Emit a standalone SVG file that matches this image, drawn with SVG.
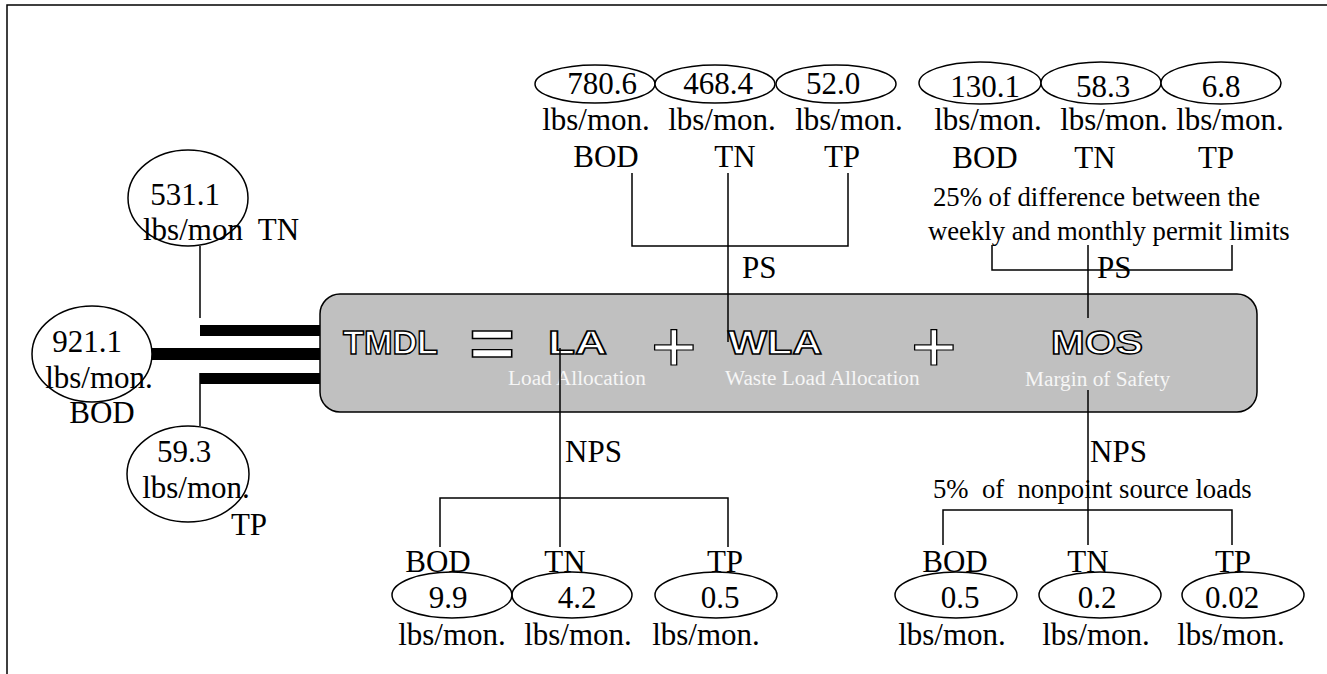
<svg xmlns="http://www.w3.org/2000/svg" width="1327" height="674" viewBox="0 0 1327 674">
<style>
.t{font-family:"Liberation Serif","Times New Roman",serif;font-size:31px;fill:#000}
.s{font-family:"Liberation Serif","Times New Roman",serif;font-size:26.7px;fill:#000}
.w{font-family:"Liberation Serif","Times New Roman",serif;font-size:21.3px;fill:#f6f6f6}
.b{font-family:"Liberation Sans",Arial,sans-serif;font-weight:bold;font-size:33px;fill:#fff;stroke:#000;stroke-width:1.4}
.eq{font-family:"Liberation Sans",Arial,sans-serif;font-weight:bold;font-size:68px;fill:#fff;stroke:#000;stroke-width:1.4}
.pl{font-family:"Liberation Sans",Arial,sans-serif;font-weight:normal;font-size:72px;fill:#fff;stroke:#000;stroke-width:1.2}
.e{fill:#fff;stroke:#000;stroke-width:1.5}
.o{fill:none;stroke:#000;stroke-width:1.5}
.ln{stroke:#000;stroke-width:1.5;fill:none}
.bar{fill:#000}
</style>
<g id="frame"><path class="ln" d="M7,674 V5 H1327"/></g>
<g id="connectors">
<rect class="bar" x="200" y="325" width="121" height="11"/>
<rect class="bar" x="150" y="348" width="171" height="12"/>
<rect class="bar" x="200" y="373" width="121" height="11"/>
<path class="ln" d="M200,246 V318 M200,373 V426"/>
</g>
<g id="tmdl">
<rect x="320" y="294" width="937" height="118" rx="20" ry="20" fill="#c0c0c0" stroke="#000" stroke-width="1.5"/>
<text class="b" x="343" y="354" textLength="95" lengthAdjust="spacingAndGlyphs">TMDL</text>
<text class="eq" x="492" y="367" text-anchor="middle" transform="translate(492 0) scale(1.15 1) translate(-492 0)">=</text>
<text class="b" x="548" y="354" textLength="59" lengthAdjust="spacingAndGlyphs">LA</text>
<text class="pl" x="674" y="371" text-anchor="middle" transform="translate(674 0) scale(1.1 1) translate(-674 0)">+</text>
<text class="b" x="728" y="354" textLength="94" lengthAdjust="spacingAndGlyphs">WLA</text>
<text class="pl" x="934" y="371" text-anchor="middle" transform="translate(934 0) scale(1.1 1) translate(-934 0)">+</text>
<text class="b" x="1051" y="354" textLength="92" lengthAdjust="spacingAndGlyphs">MOS</text>
<text class="w" x="508" y="385">Load Allocation</text>
<text class="w" x="725" y="385">Waste Load Allocation</text>
<text class="w" x="1025" y="386">Margin of Safety</text>
</g>
<g id="lines">
<path class="ln" d="M632,173 V246 H848 V173 M728,173 V342"/>
<path class="ln" d="M992,245 V270 H1232 V245 M1088,245 V318"/>
<path class="ln" d="M560,348 V547 M440,547 V498 H728 V547"/>
<path class="ln" d="M1088,390 V545 M943,545 V510 H1232 V545"/>
</g>
<g id="left-tn">
<ellipse class="e" cx="188" cy="198" rx="60" ry="48"/>
<text class="t" x="185" y="205" text-anchor="middle">531.1</text>
<text class="t" x="143" y="240" xml:space="preserve">lbs/mon  TN</text>
</g>
<g id="left-bod">
<ellipse class="e" cx="92" cy="354" rx="60" ry="48"/>
<text class="t" x="87" y="352" text-anchor="middle">921.1</text>
<text class="t" x="99" y="388" text-anchor="middle">lbs/mon.</text>
<text class="t" x="102" y="423" text-anchor="middle">BOD</text>
</g>
<g id="left-tp">
<ellipse class="e" cx="188" cy="474" rx="61" ry="48"/>
<text class="t" x="184" y="462" text-anchor="middle">59.3</text>
<text class="t" x="196" y="498" text-anchor="middle">lbs/mon.</text>
<text class="t" x="249" y="535" text-anchor="middle">TP</text>
</g>
<g id="wla-group">
<ellipse class="e" cx="595" cy="84" rx="60" ry="19"/>
<ellipse class="e" cx="715" cy="84" rx="60" ry="19"/>
<ellipse class="e" cx="836" cy="84" rx="60" ry="19"/>
<text class="t" x="602" y="94" text-anchor="middle">780.6</text>
<text class="t" x="718" y="94" text-anchor="middle">468.4</text>
<text class="t" x="833" y="94" text-anchor="middle">52.0</text>
<text class="t" x="596" y="130" text-anchor="middle">lbs/mon.</text>
<text class="t" x="722" y="130" text-anchor="middle">lbs/mon.</text>
<text class="t" x="849" y="130" text-anchor="middle">lbs/mon.</text>
<text class="t" x="606" y="167" text-anchor="middle">BOD</text>
<text class="t" x="735" y="167" text-anchor="middle">TN</text>
<text class="t" x="842" y="167" text-anchor="middle">TP</text>
<text class="t" x="742" y="278">PS</text>
</g>
<g id="mos-group">
<ellipse class="e" cx="980" cy="83" rx="61" ry="21"/>
<ellipse class="e" cx="1101" cy="83" rx="60" ry="21"/>
<ellipse class="e" cx="1221" cy="83" rx="60" ry="21"/>
<text class="t" x="985" y="97" text-anchor="middle">130.1</text>
<text class="t" x="1103" y="97" text-anchor="middle">58.3</text>
<text class="t" x="1221" y="97" text-anchor="middle">6.8</text>
<text class="t" x="988" y="130" text-anchor="middle">lbs/mon.</text>
<text class="t" x="1114" y="130" text-anchor="middle">lbs/mon.</text>
<text class="t" x="1230" y="130" text-anchor="middle">lbs/mon.</text>
<text class="t" x="985" y="168" text-anchor="middle">BOD</text>
<text class="t" x="1095" y="168" text-anchor="middle">TN</text>
<text class="t" x="1216" y="168" text-anchor="middle">TP</text>
<text class="s" x="933" y="206">25% of difference between the</text>
<text class="s" x="928" y="240">weekly and monthly permit limits</text>
<text class="t" x="1097" y="278">PS</text>
</g>
<g id="la-group">
<text class="t" x="565" y="462">NPS</text>
<text class="t" x="438" y="572" text-anchor="middle">BOD</text>
<text class="t" x="565" y="572" text-anchor="middle">TN</text>
<text class="t" x="725" y="572" text-anchor="middle">TP</text>
<ellipse class="o" cx="452" cy="595" rx="60" ry="23"/>
<ellipse class="o" cx="572" cy="595" rx="60" ry="23"/>
<ellipse class="o" cx="716" cy="595" rx="61" ry="23"/>
<text class="t" x="448" y="608" text-anchor="middle">9.9</text>
<text class="t" x="577" y="608" text-anchor="middle">4.2</text>
<text class="t" x="720" y="608" text-anchor="middle">0.5</text>
<text class="t" x="452" y="645" text-anchor="middle">lbs/mon.</text>
<text class="t" x="578" y="645" text-anchor="middle">lbs/mon.</text>
<text class="t" x="706" y="645" text-anchor="middle">lbs/mon.</text>
</g>
<g id="mos-nps-group">
<text class="t" x="1090" y="462">NPS</text>
<text class="s" x="933" y="498" xml:space="preserve">5%  of  nonpoint source loads</text>
<text class="t" x="955" y="572" text-anchor="middle">BOD</text>
<text class="t" x="1088" y="572" text-anchor="middle">TN</text>
<text class="t" x="1233" y="572" text-anchor="middle">TP</text>
<ellipse class="o" cx="956" cy="595" rx="61" ry="23"/>
<ellipse class="o" cx="1100" cy="595" rx="61" ry="23"/>
<ellipse class="o" cx="1243" cy="595" rx="61" ry="23"/>
<text class="t" x="960" y="608" text-anchor="middle">0.5</text>
<text class="t" x="1097" y="608" text-anchor="middle">0.2</text>
<text class="t" x="1232" y="608" text-anchor="middle">0.02</text>
<text class="t" x="952" y="645" text-anchor="middle">lbs/mon.</text>
<text class="t" x="1096" y="645" text-anchor="middle">lbs/mon.</text>
<text class="t" x="1231" y="645" text-anchor="middle">lbs/mon.</text>
</g>
</svg>
